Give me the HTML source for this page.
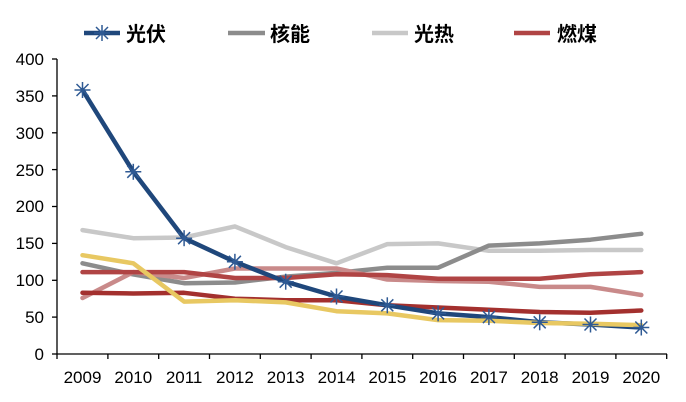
<!DOCTYPE html>
<html><head><meta charset="utf-8"><style>
html,body{margin:0;padding:0;background:#fff;}
svg{display:block;font-family:"Liberation Sans","Noto Sans CJK SC",sans-serif;}
</style></head><body>
<svg width="686" height="402" viewBox="0 0 686 402" xmlns="http://www.w3.org/2000/svg">
<g stroke="#000" stroke-width="1.3" fill="none">
<line x1="57" y1="59" x2="57" y2="354"/>
<line x1="57" y1="354" x2="667" y2="354"/>
<line x1="52" y1="59" x2="57" y2="59"/><line x1="52" y1="95.9" x2="57" y2="95.9"/><line x1="52" y1="132.8" x2="57" y2="132.8"/><line x1="52" y1="169.6" x2="57" y2="169.6"/><line x1="52" y1="206.5" x2="57" y2="206.5"/><line x1="52" y1="243.4" x2="57" y2="243.4"/><line x1="52" y1="280.3" x2="57" y2="280.3"/><line x1="52" y1="317.1" x2="57" y2="317.1"/><line x1="52" y1="354" x2="57" y2="354"/>
<g>
<line x1="57" y1="354" x2="57" y2="359"/><line x1="107.9" y1="354" x2="107.9" y2="359"/><line x1="158.7" y1="354" x2="158.7" y2="359"/><line x1="209.5" y1="354" x2="209.5" y2="359"/><line x1="260.3" y1="354" x2="260.3" y2="359"/><line x1="311.1" y1="354" x2="311.1" y2="359"/><line x1="361.9" y1="354" x2="361.9" y2="359"/><line x1="412.7" y1="354" x2="412.7" y2="359"/><line x1="463.5" y1="354" x2="463.5" y2="359"/><line x1="514.3" y1="354" x2="514.3" y2="359"/><line x1="565.1" y1="354" x2="565.1" y2="359"/><line x1="615.9" y1="354" x2="615.9" y2="359"/><line x1="666.7" y1="354" x2="666.7" y2="359"/>
</g></g>
<g font-size="17" fill="#000" text-anchor="end">
<text x="44" y="65">400</text><text x="44" y="102">350</text><text x="44" y="139">300</text><text x="44" y="176">250</text><text x="44" y="212">200</text><text x="44" y="249">150</text><text x="44" y="286">100</text><text x="44" y="323">50</text><text x="44" y="360">0</text>
</g>
<g font-size="17" fill="#000" text-anchor="middle">
<text x="82.5" y="383">2009</text><text x="133.3" y="383">2010</text><text x="184.1" y="383">2011</text><text x="234.9" y="383">2012</text><text x="285.7" y="383">2013</text><text x="336.5" y="383">2014</text><text x="387.3" y="383">2015</text><text x="438.1" y="383">2016</text><text x="488.9" y="383">2017</text><text x="539.7" y="383">2018</text><text x="590.5" y="383">2019</text><text x="641.3" y="383">2020</text>
</g>
<g fill="none" stroke-width="4.5" stroke-linejoin="round" stroke-linecap="round">
<polyline stroke="#C8C8C8" points="82.5,230.1 133.3,238.2 184.1,237.5 234.9,226.4 285.7,247.1 336.5,263.3 387.3,244.1 438.1,243.4 488.9,250.8 539.7,250.8 590.5,250 641.3,250"/>
<polyline stroke="#8C8C8C" points="82.5,263.3 133.3,274.4 184.1,283.2 234.9,282.5 285.7,276.6 336.5,272.9 387.3,267.7 438.1,267.7 488.9,245.6 539.7,243.4 590.5,239.7 641.3,233.8"/>
<polyline stroke="#C98A8A" points="82.5,298 133.3,272.1 184.1,278 234.9,268.5 285.7,268.5 336.5,268.5 387.3,279.5 438.1,281 488.9,281.7 539.7,286.9 590.5,286.9 641.3,295"/>
<polyline stroke="#B04444" points="82.5,272.1 133.3,272.1 184.1,272.1 234.9,278 285.7,278 336.5,274.3 387.3,275.1 438.1,278.8 488.9,278.8 539.7,278.8 590.5,274.3 641.3,272.1"/>
<polyline stroke="#A3302E" points="82.5,292.8 133.3,293.5 184.1,292.8 234.9,298.7 285.7,300.2 336.5,300.2 387.3,305.3 438.1,307.5 488.9,309.8 539.7,312 590.5,312.7 641.3,310.5"/>
<polyline stroke="#1F477B" points="82.5,90 133.3,171.8 184.1,238.2 234.9,261.8 285.7,281.7 336.5,296.5 387.3,305.3 438.1,313.4 488.9,317.1 539.7,322.3 590.5,324.5 641.3,327.5"/>
<polyline stroke="#E8C862" points="82.5,255.2 133.3,263.3 184.1,301.6 234.9,300.2 285.7,302.4 336.5,311.2 387.3,313.4 438.1,320.1 488.9,320.8 539.7,323 590.5,323.8 641.3,325.2"/>
</g>
<defs><g id="m" stroke="#2F5A94" stroke-width="1.5"><line x1="-8" y1="0" x2="8" y2="0"/><line x1="0" y1="-8" x2="0" y2="8"/><line x1="-6" y1="-6" x2="6" y2="6"/><line x1="-6" y1="6" x2="6" y2="-6"/></g></defs>
<use href="#m" x="82.5" y="90"/><use href="#m" x="133.3" y="171.8"/><use href="#m" x="184.1" y="238.2"/><use href="#m" x="234.9" y="261.8"/><use href="#m" x="285.7" y="281.7"/><use href="#m" x="336.5" y="296.5"/><use href="#m" x="387.3" y="305.3"/><use href="#m" x="438.1" y="313.4"/><use href="#m" x="488.9" y="317.1"/><use href="#m" x="539.7" y="322.3"/><use href="#m" x="590.5" y="324.5"/><use href="#m" x="641.3" y="327.5"/>
<g stroke-width="4.5">
<line x1="84" y1="33" x2="120" y2="33" stroke="#1F477B"/><use href="#m" x="102" y="33"/>
<line x1="228" y1="33" x2="265" y2="33" stroke="#8C8C8C"/>
<line x1="372" y1="33" x2="408" y2="33" stroke="#C8C8C8"/>
<line x1="514" y1="33" x2="550" y2="33" stroke="#B04444"/>
</g>
<g font-size="20" font-weight="bold" fill="#000">
<text x="126" y="41">光伏</text><text x="270" y="41">核能</text><text x="414" y="41">光热</text><text x="557" y="41">燃煤</text>
</g>
</svg>
</body></html>
